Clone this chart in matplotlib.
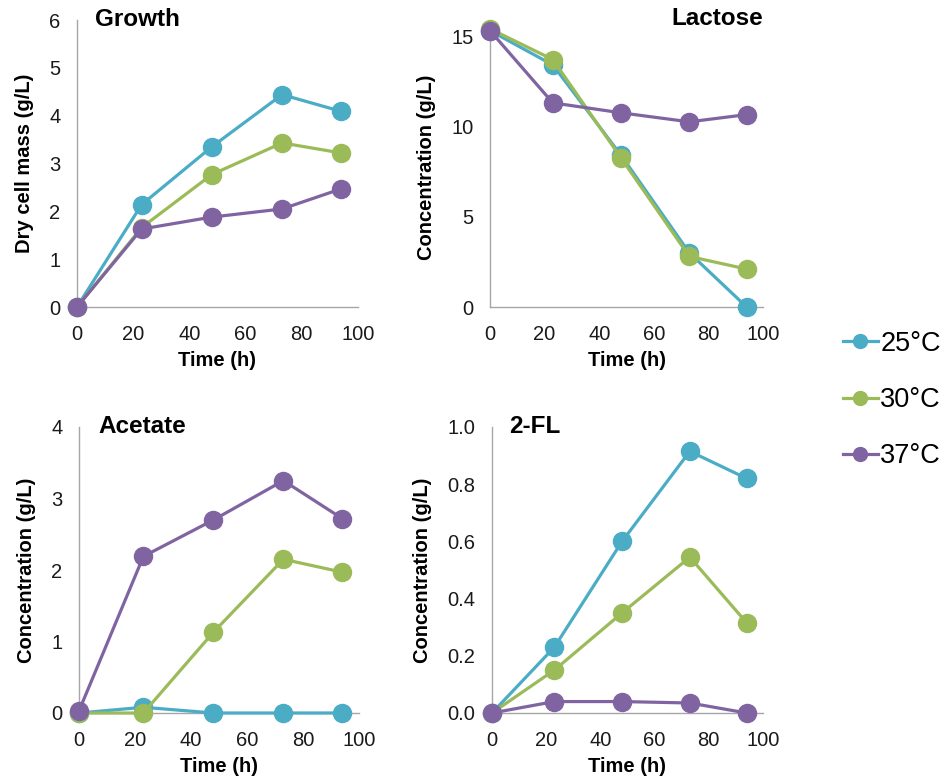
import numpy as np
import matplotlib.pyplot as plt
from matplotlib.lines import Line2D

plt.rcParams['font.family'] = ['Liberation Sans', 'DejaVu Sans']

# sampling times (h)
time_h = [0, 23, 48, 73, 94]
temps = ['25°C', '30°C', '37°C']
colors = ['#4BACC6', '#9BBB59', '#8064A2']

# dry cell mass (g/L)
growth_25 = [0, 2.14, 3.35, 4.44, 4.09]
growth_30 = [0, 1.66, 2.77, 3.43, 3.22]
growth_37 = [0, 1.63, 1.88, 2.05, 2.47]

# lactose (g/L)
lactose_25 = [15.3, 13.4, 8.4, 3.0, 0.0]
lactose_30 = [15.4, 13.7, 8.25, 2.8, 2.1]
lactose_37 = [15.3, 11.3, 10.75, 10.25, 10.65]

# acetate (g/L)
acetate_25 = [0.0, 0.08, 0.0, 0.0, 0.0]
acetate_30 = [0.0, 0.0, 1.13, 2.15, 1.97]
acetate_37 = [0.03, 2.19, 2.7, 3.25, 2.72]

# 2-FL (g/L)
fl_25 = [0.0, 0.23, 0.6, 0.915, 0.82]
fl_30 = [0.0, 0.15, 0.35, 0.545, 0.315]
fl_37 = [0.0, 0.04, 0.04, 0.035, 0.0]

W, H = 944, 782
fig = plt.figure(figsize=(W / 100, H / 100), dpi=100)


def px_axes(x0, x1, y_top, y_bot):
    return fig.add_axes([x0 / W, (H - y_bot) / H, (x1 - x0) / W, (y_bot - y_top) / H])


def panel(ax, series, ymax, yticks, ylabel, title, title_x, title_ha, fmt='%g'):
    for vals, c in zip(series, colors):
        ax.plot(time_h, vals, color=c, lw=2.3, marker='o', ms=13,
                clip_on=False, zorder=3)
    ax.set_xlim(0, 100)
    ax.set_ylim(0, ymax)
    ax.set_xticks([0, 20, 40, 60, 80, 100])
    ax.set_yticks(yticks)
    ax.set_yticklabels([fmt % v for v in yticks])
    for s in ['top', 'right']:
        ax.spines[s].set_visible(False)
    for s in ['left', 'bottom']:
        ax.spines[s].set_color('#A6A6A6')
        ax.spines[s].set_linewidth(1.0)
    ax.tick_params(axis='both', length=0, labelsize=14.5, colors='#1a1a1a')
    ax.tick_params(axis='y', pad=12)
    ax.tick_params(axis='x', pad=13)
    ax.set_xlabel('Time (h)', fontsize=14.5, fontweight='bold', labelpad=5)
    ax.set_ylabel(ylabel, fontsize=14.5, fontweight='bold', labelpad=11)
    ax.text(title_x, 1.0, title, transform=ax.transAxes, ha=title_ha, va='center',
            fontsize=17.5, fontweight='bold')


ax1 = px_axes(77, 358, 20, 307)
panel(ax1, [growth_25, growth_30, growth_37], 6, [0, 1, 2, 3, 4, 5, 6],
      'Dry cell mass (g/L)', 'Growth', 0.065, 'left')

ax2 = px_axes(490, 763, 27, 307)
panel(ax2, [lactose_25, lactose_30, lactose_37], 15.5, [0, 5, 10, 15],
      'Concentration (g/L)', 'Lactose', 1.0, 'right')
ax2.texts[0].set_y(1.03)

ax3 = px_axes(79, 359, 427, 713)
panel(ax3, [acetate_25, acetate_30, acetate_37], 4, [0, 1, 2, 3, 4],
      'Concentration (g/L)', 'Acetate', 0.07, 'left')

ax4 = px_axes(492, 763, 427, 713)
panel(ax4, [fl_25, fl_30, fl_37], 1.0, [0.0, 0.2, 0.4, 0.6, 0.8, 1.0],
      'Concentration (g/L)', '2-FL', 0.065, 'left', fmt='%.1f')

handles = [Line2D([], [], color=c, lw=2.3, marker='o', ms=10) for c in colors]
fig.legend(handles, temps, loc='center right', bbox_to_anchor=(941 / W, 1 - 400 / H),
           frameon=False, fontsize=19.5, handlelength=1.3, handletextpad=0.08,
           labelspacing=1.12, borderpad=0, borderaxespad=0)

fig.savefig('out.png', dpi=100)
